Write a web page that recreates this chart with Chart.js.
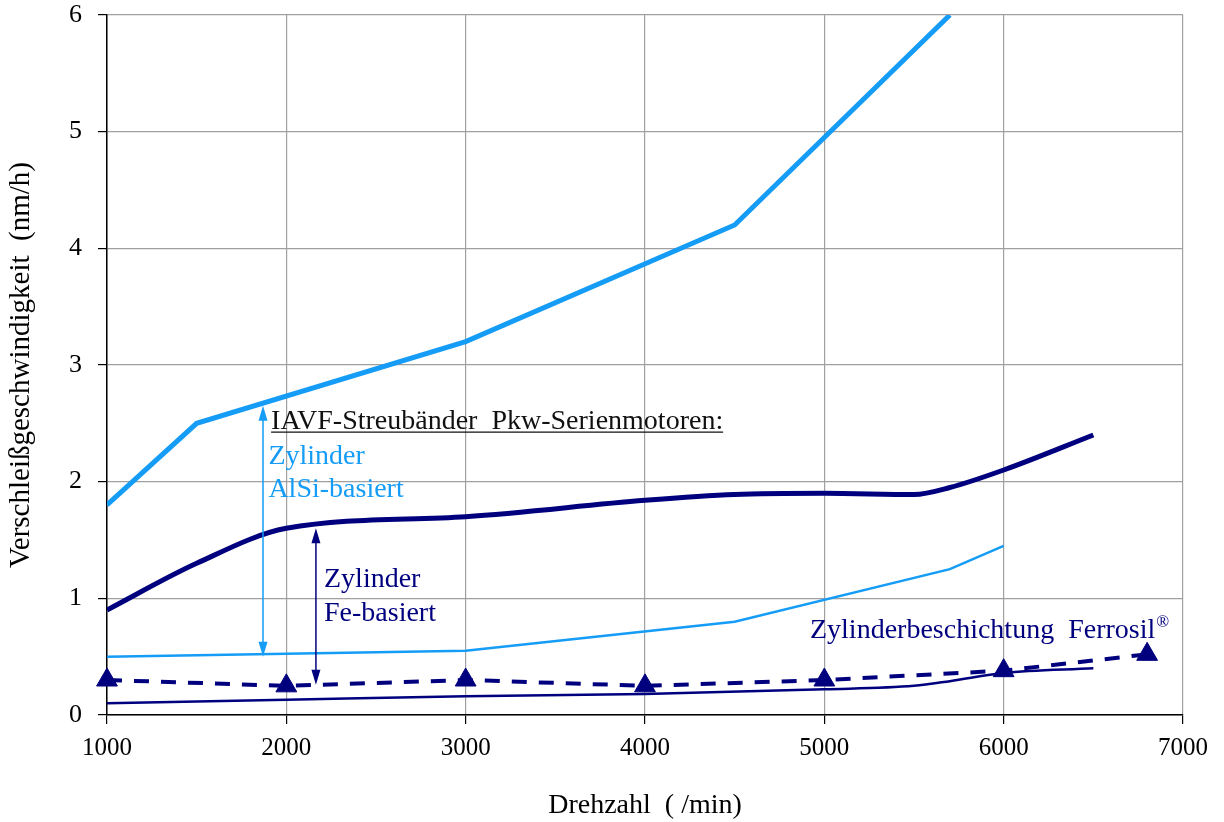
<!DOCTYPE html>
<html>
<head>
<meta charset="utf-8">
<script src="https://cdn.jsdelivr.net/npm/chart.js@4/dist/chart.umd.min.js"></script>
<style>
  html, body { margin: 0; padding: 0; background: #fff; }
  #wrap { width: 1224px; height: 822px; }
</style>
</head>
<body>
<div id="wrap"><canvas id="myChart" width="1224" height="822"></canvas></div>
<script>
// Streuband AlSi-basierte Zylinder (obere / untere Grenze)
const alsiObenX = [1000, 1500, 3000, 4500, 5700];
const alsiObenY = [1.8, 2.5, 3.2, 4.2, 6.0];
const alsiUntenX = [1000, 3000, 4500, 5700, 6000];
const alsiUntenY = [0.5, 0.55, 0.8, 1.25, 1.45];

// Streuband Fe-basierte Zylinder
const feObenX = [1000, 1500, 2000, 3000, 4000, 4500, 5000, 5500, 5700, 6000, 6500];
const feObenY = [0.9, 1.3, 1.6, 1.7, 1.84, 1.89, 1.9, 1.89, 1.95, 2.1, 2.4];
const feUntenX = [1000, 2000, 3000, 4000, 5000, 5500, 5700, 6000, 6500];
const feUntenY = [0.1, 0.13, 0.16, 0.18, 0.22, 0.25, 0.29, 0.36, 0.4];

// Ferrosil-Messpunkte
const ferrosilX = [1000, 2000, 3000, 4000, 5000, 6000, 6800];
const ferrosilY = [0.3, 0.25, 0.3, 0.25, 0.3, 0.38, 0.52];

// Doppelpfeile für die Streubänder (x, von, bis)
const pfeilX = [1870, 2165];
const pfeilVon = [0.5, 0.26];
const pfeilBis = [2.65, 1.6];

// Achsenticks
const xTicks = [1000, 2000, 3000, 4000, 5000, 6000, 7000];
const yTicks = [0, 1, 2, 3, 4, 5, 6];

const hellblau = '#159cf6';
const dunkelblau = '#00007f';
const schrift = '"Liberation Serif", "Times New Roman", serif';

function punkte(xs, ys) {
  return xs.map((x, i) => ({ x: x, y: ys[i] }));
}

// Pfeile und Beschriftungen über die Skalen zeichnen
const beschriftung = {
  id: 'beschriftung',
  afterDatasetsDraw(chart) {
    const ctx = chart.ctx;
    const sx = chart.scales.x;
    const sy = chart.scales.y;
    const farben = [hellblau, dunkelblau];

    ctx.save();
    pfeilX.forEach((xv, i) => {
      const px = sx.getPixelForValue(xv);
      const y1 = sy.getPixelForValue(pfeilVon[i]);
      const y2 = sy.getPixelForValue(pfeilBis[i]);
      ctx.strokeStyle = farben[i];
      ctx.fillStyle = farben[i];
      ctx.lineWidth = 1.5;
      ctx.beginPath();
      ctx.moveTo(px, y1 - 12);
      ctx.lineTo(px, y2 + 12);
      ctx.stroke();
      // Spitzen
      ctx.beginPath();
      ctx.moveTo(px, y2);
      ctx.lineTo(px - 4.5, y2 + 15);
      ctx.lineTo(px + 4.5, y2 + 15);
      ctx.closePath();
      ctx.fill();
      ctx.beginPath();
      ctx.moveTo(px, y1);
      ctx.lineTo(px - 4.5, y1 - 15);
      ctx.lineTo(px + 4.5, y1 - 15);
      ctx.closePath();
      ctx.fill();
    });

    ctx.font = '28px ' + schrift;
    ctx.textBaseline = 'alphabetic';
    ctx.textAlign = 'left';

    // Überschrift mit Unterstreichung
    const tx = sx.getPixelForValue(1915);
    const ty = sy.getPixelForValue(2.45);
    const titel = 'IAVF-Streubänder  Pkw-Serienmotoren:';
    ctx.fillStyle = '#111';
    ctx.fillText(titel, tx, ty);
    const breite = ctx.measureText(titel).width;
    ctx.strokeStyle = '#111';
    ctx.lineWidth = 1.2;
    ctx.beginPath();
    ctx.moveTo(tx, ty + 3);
    ctx.lineTo(tx + breite, ty + 3);
    ctx.stroke();

    ctx.fillStyle = hellblau;
    ctx.fillText('Zylinder', sx.getPixelForValue(1900), sy.getPixelForValue(2.15));
    ctx.fillText('AlSi-basiert', sx.getPixelForValue(1900), sy.getPixelForValue(1.87));

    ctx.fillStyle = dunkelblau;
    ctx.fillText('Zylinder', sx.getPixelForValue(2210), sy.getPixelForValue(1.1));
    ctx.fillText('Fe-basiert', sx.getPixelForValue(2210), sy.getPixelForValue(0.81));

    const fx = sx.getPixelForValue(4920);
    const fy = sy.getPixelForValue(0.66);
    const ferro = 'Zylinderbeschichtung  Ferrosil';
    ctx.fillText(ferro, fx, fy);
    const fb = ctx.measureText(ferro).width;
    ctx.font = '17px ' + schrift;
    ctx.fillText('®', fx + fb + 1, fy - 11);
    ctx.restore();
  }
};

const ctx = document.getElementById('myChart').getContext('2d');
new Chart(ctx, {
  type: 'line',
  data: {
    datasets: [{
      label: 'AlSi oben',
      data: punkte(alsiObenX, alsiObenY),
      borderColor: hellblau,
      borderWidth: 5,
      pointRadius: 0,
      tension: 0
    }, {
      label: 'AlSi unten',
      data: punkte(alsiUntenX, alsiUntenY),
      borderColor: hellblau,
      borderWidth: 2.5,
      pointRadius: 0,
      tension: 0
    }, {
      label: 'Fe oben',
      data: punkte(feObenX, feObenY),
      borderColor: dunkelblau,
      borderWidth: 5,
      pointRadius: 0,
      cubicInterpolationMode: 'monotone'
    }, {
      label: 'Fe unten',
      data: punkte(feUntenX, feUntenY),
      borderColor: dunkelblau,
      borderWidth: 2.5,
      pointRadius: 0,
      cubicInterpolationMode: 'monotone'
    }, {
      label: 'Ferrosil',
      data: punkte(ferrosilX, ferrosilY),
      borderColor: dunkelblau,
      backgroundColor: dunkelblau,
      borderWidth: 4,
      borderDash: [15, 12],
      pointStyle: 'triangle',
      pointRadius: 12,
      pointBorderWidth: 1,
      pointBackgroundColor: dunkelblau,
      pointBorderColor: dunkelblau,
      clip: false,
      tension: 0
    }]
  },
  options: {
    responsive: false,
    animation: false,
    devicePixelRatio: 1,
    layout: { padding: { top: 15, right: 41, left: 0, bottom: 0 } },
    plugins: {
      legend: { display: false },
      tooltip: { enabled: false }
    },
    scales: {
      x: {
        type: 'linear',
        min: 1000,
        max: 7000,
        afterBuildTicks: (axis) => { axis.ticks = xTicks.map(v => ({ value: v })); },
        afterFit: (axis) => { axis.height = 107; },
        border: { color: '#000', width: 1.5 },
        grid: { color: '#a0a0a0', lineWidth: 1.2, tickColor: '#000', tickLength: 9 },
        ticks: {
          color: '#000',
          padding: 9,
          maxRotation: 0,
          font: { family: schrift, size: 25 },
          callback: (v) => String(v)
        },
        title: {
          display: true,
          text: 'Drehzahl  ( /min)',
          color: '#000',
          font: { family: schrift, size: 28 },
          padding: { top: 0, bottom: 0 }
        }
      },
      y: {
        min: 0,
        max: 6,
        afterBuildTicks: (axis) => { axis.ticks = yTicks.map(v => ({ value: v })); },
        afterFit: (axis) => {
          axis.width = 107;
          axis.paddingTop = 0;
          axis.paddingBottom = 0;
        },
        border: { color: '#000', width: 1.5 },
        grid: { color: '#a0a0a0', lineWidth: 1.2, tickColor: '#000', tickLength: 9 },
        ticks: {
          color: '#000',
          padding: 16,
          font: { family: schrift, size: 26 }
        },
        title: {
          display: true,
          text: 'Verschleißgeschwindigkeit  (nm/h)',
          color: '#000',
          font: { family: schrift, size: 29 },
          padding: { top: 4, bottom: 0 }
        }
      }
    }
  },
  plugins: [beschriftung]
});
</script>
</body>
</html>
